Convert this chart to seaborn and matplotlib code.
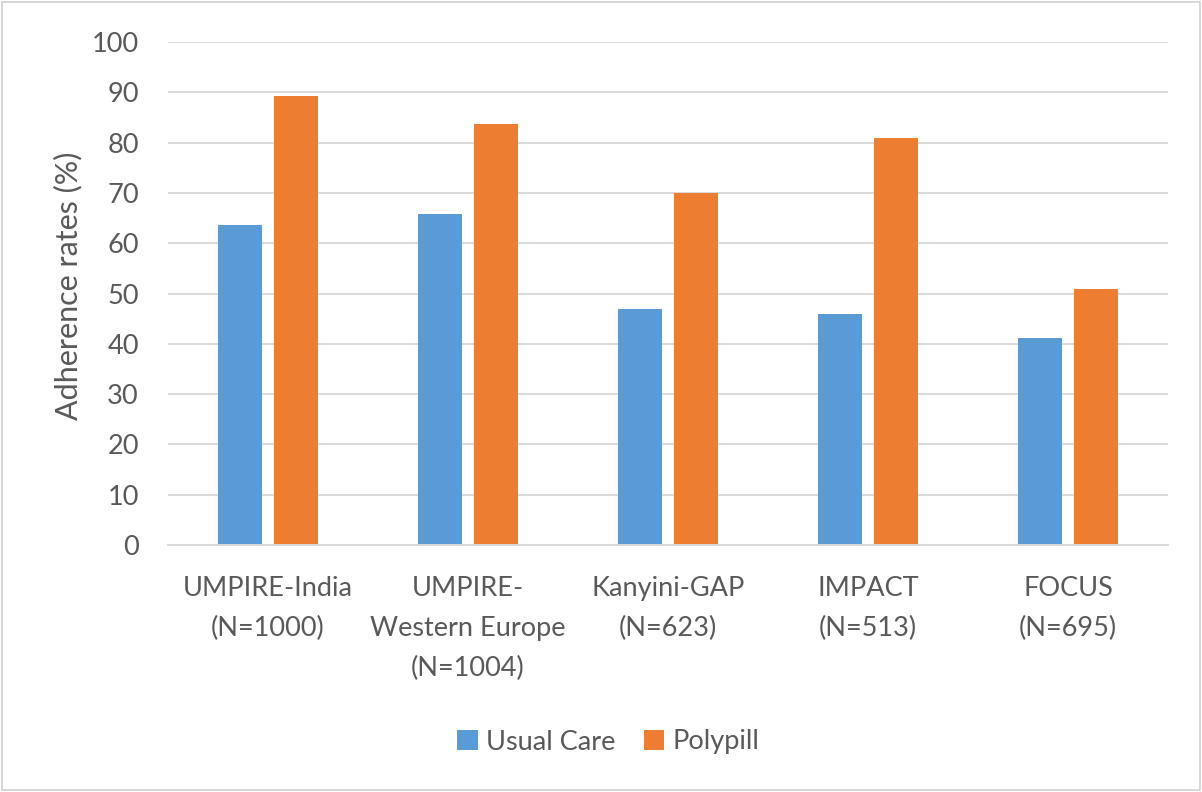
import matplotlib
matplotlib.use("Agg")
import matplotlib.pyplot as plt
import seaborn as sns
import pandas as pd
from matplotlib.patches import Rectangle

categories = ["UMPIRE-India\n(N=1000)", "UMPIRE-\nWestern Europe\n(N=1004)",
              "Kanyini-GAP\n(N=623)", "IMPACT\n(N=513)", "FOCUS\n(N=695)"]
usual_care = [63.7, 65.9, 47.0, 46.0, 41.1]
polypill = [89.2, 83.7, 70.0, 81.0, 50.8]
series = ["Usual Care", "Polypill"]
colors = ["#5B9BD5", "#ED7D31"]

df = pd.DataFrame({
    "Study": categories * 2,
    "Group": [series[0]] * len(categories) + [series[1]] * len(categories),
    "Value": usual_care + polypill,
})

sns.set_theme(style="white")
plt.rcParams["font.family"] = ["Lato", "DejaVu Sans"]
TXT = "#595959"

fig = plt.figure(figsize=(12.02, 7.92), dpi=100)
ax = fig.add_axes([168/1202, 1-545/792, 1000/1202, 503/792])

sns.barplot(data=df, x="Study", y="Value", hue="Group", palette=colors,
            saturation=1, width=0.56, gap=0.2, linewidth=0, ax=ax, legend=True)

ax.set_ylim(0, 100)
ax.set_xlim(-0.5, 4.5)
ax.set_yticks(range(0, 101, 10))
ax.yaxis.grid(True, color="#D9D9D9", linewidth=1.4)
ax.set_axisbelow(True)
for s in ["top", "right", "left"]:
    ax.spines[s].set_visible(False)
ax.spines["bottom"].set_color("#D9D9D9")
ax.spines["bottom"].set_linewidth(1.4)
ax.tick_params(axis="y", length=0, pad=21, labelsize=19.5, labelcolor=TXT)
ax.tick_params(axis="x", length=0, pad=22, labelsize=19.5, labelcolor=TXT)
for t in ax.get_xticklabels():
    t.set_linespacing(1.75)
ax.set_xlabel("")
ax.set_ylabel("Adherence rates (%)", fontsize=22, color=TXT)
ax.yaxis.set_label_coords(-0.086, 0.515)

ax.get_legend().remove()
handles, labels = ax.get_legend_handles_labels()
fig.legend(handles, labels, loc="center", bbox_to_anchor=(0.506, 1-742/792),
           ncol=2, frameon=False, fontsize=19.5, labelcolor=TXT,
           handlelength=0.75, handleheight=0.75, handletextpad=0.3, columnspacing=1.05)

fig.patches.append(Rectangle((0.002, 0.002), 0.996, 0.996, transform=fig.transFigure,
                             fill=False, edgecolor="#D0D0D0", linewidth=1.2))

fig.savefig("out.png", dpi=100, facecolor="white")
